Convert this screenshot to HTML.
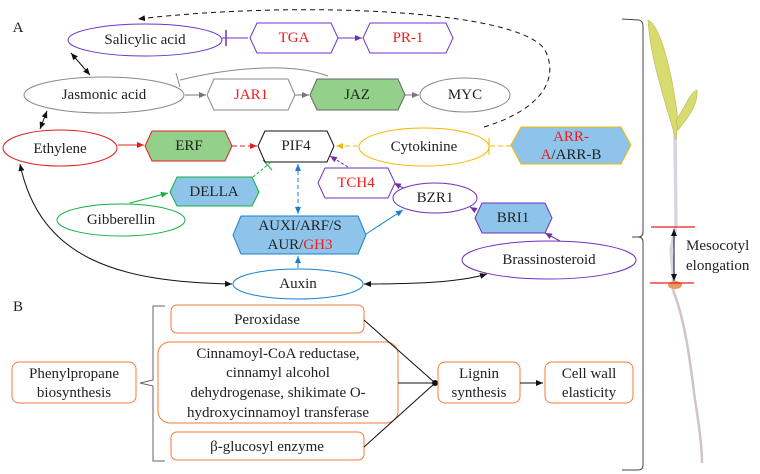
<!DOCTYPE html>
<html><head><meta charset="utf-8"><style>
html,body{margin:0;padding:0;background:#fff}
svg{display:block}
svg text{font-family:"Liberation Serif","Times New Roman",serif;font-size:15px;fill:#222;text-anchor:middle;dominant-baseline:central}
svg text.lf{text-anchor:start}
.r{fill:#f01c1c}
</style></head><body>
<svg width="760" height="474" viewBox="0 0 760 474" font-family="Liberation Serif, serif">
<defs>
<marker id="ak" markerWidth="8" markerHeight="8" refX="7" refY="4" orient="auto-start-reverse"><path d="M0,1 L7,4 L0,7z" fill="#111"/></marker>
<marker id="ag" markerWidth="8" markerHeight="8" refX="7" refY="4" orient="auto"><path d="M0,1 L7,4 L0,7z" fill="#777"/></marker>
<marker id="ar" markerWidth="8" markerHeight="8" refX="7" refY="4" orient="auto"><path d="M0,1 L7,4 L0,7z" fill="#e02020"/></marker>
<marker id="ap" markerWidth="8" markerHeight="8" refX="7" refY="4" orient="auto"><path d="M0,1 L7,4 L0,7z" fill="#7030a0"/></marker>
<marker id="ab" markerWidth="8" markerHeight="8" refX="7" refY="4" orient="auto-start-reverse"><path d="M0,1 L7,4 L0,7z" fill="#1a7fd0"/></marker>
<marker id="agr" markerWidth="8" markerHeight="8" refX="7" refY="4" orient="auto"><path d="M0,1 L7,4 L0,7z" fill="#10b040"/></marker>
<marker id="ay" markerWidth="8" markerHeight="8" refX="7" refY="4" orient="auto"><path d="M0,1 L7,4 L0,7z" fill="#f5b800"/></marker>
</defs>

<text x="18" y="28">A</text>
<text x="18" y="307">B</text>

<path d="M484,127 C540,110 560,80 545,50 C520,10 300,0 138,19" fill="none" stroke="#111" stroke-dasharray="5,4" marker-end="url(#ak)"/>

<path d="M222,38 L248,38" stroke="#7030c0" fill="none"/>
<path d="M226,30 L226,46" stroke="#7030c0" stroke-width="1.5"/>
<path d="M337,38 L362,38" stroke="#7030c0" marker-end="url(#ap)"/>
<path d="M71,53 L90,75" stroke="#111" marker-end="url(#ak)" marker-start="url(#ak)"/>
<path d="M47,111 L40,129" stroke="#111" marker-end="url(#ak)" marker-start="url(#ak)"/>
<path d="M185,95 L206,95" stroke="#777" marker-end="url(#ag)"/>
<path d="M295,95 L309,95" stroke="#777" marker-end="url(#ag)"/>
<path d="M405,95 L419,95" stroke="#777" marker-end="url(#ag)"/>
<path d="M328,76 C290,62 230,68 180,80" stroke="#888" fill="none"/>
<path d="M176,73 L180,87" stroke="#888"/>
<path d="M118,145 L144,145" stroke="#e02020" marker-end="url(#ar)"/>
<path d="M232,146 L257,146" stroke="#e02020" stroke-dasharray="5,3" marker-end="url(#ar)"/>
<path d="M358,146 L336,146" stroke="#f5b800" stroke-dasharray="5,3" marker-end="url(#ay)"/>
<path d="M511,146 L490,146" stroke="#f5b800" stroke-dasharray="5,3"/>
<path d="M489,138 L489,155" stroke="#f5b800"/>
<path d="M348,167 L330,156" stroke="#7030c0" stroke-dasharray="3,2" marker-end="url(#ap)"/>
<path d="M405,189 L394,183" stroke="#7030c0" marker-end="url(#ap)"/>
<path d="M475,210 L470,207" stroke="#7030c0" marker-end="url(#ap)"/>
<path d="M560,241 L545,233" stroke="#7030c0" marker-end="url(#ap)"/>
<path d="M253,177 L270,163" stroke="#10b040" stroke-dasharray="3,2"/>
<path d="M263,160 L272,170" stroke="#10b040"/>
<path d="M130,203 L168,193" stroke="#10b040" marker-end="url(#agr)"/>
<path d="M298,164 L298,214" stroke="#1a7fd0" stroke-dasharray="4,3" marker-end="url(#ab)" marker-start="url(#ab)"/>
<path d="M298,268 L298,256" stroke="#1a7fd0" marker-end="url(#ab)"/>
<path d="M366,234 L403,210" stroke="#1a7fd0" marker-end="url(#ab)"/>
<path d="M20,164 C40,260 120,282 232,284" stroke="#111" fill="none" marker-end="url(#ak)" marker-start="url(#ak)"/>
<path d="M364,284 C420,284 460,282 487,274" stroke="#111" fill="none" marker-end="url(#ak)" marker-start="url(#ak)"/>

<g><ellipse cx="145" cy="40" rx="77" ry="16" fill="#fff" stroke="#6a35d0"/><text x="145" y="40">Salicylic acid</text></g>
<g><polygon points="257,23 331,23 338,38 331,53 257,53 250,38" fill="#fff" stroke="#6a35d0"/><text x="294" y="38" class="r">TGA</text></g>
<g><polygon points="370,23 446,23 453,38 446,53 370,53 363,38" fill="#fff" stroke="#6a35d0"/><text x="408" y="38" class="r">PR-1</text></g>
<g><ellipse cx="104" cy="95" rx="80" ry="18" fill="#fff" stroke="#888"/><text x="104" y="95">Jasmonic acid</text></g>
<g><polygon points="214,79 288,79 295,95 288,110 214,110 207,95" fill="#fff" stroke="#888"/><text x="251" y="95" class="r">JAR1</text></g>
<g><polygon points="317,79 398,79 405,95 398,110 317,110 310,95" fill="#93d08a" stroke="#666"/><text x="357" y="95">JAZ</text></g>
<g><ellipse cx="465" cy="95" rx="45" ry="17" fill="#fff" stroke="#888"/><text x="465" y="95">MYC</text></g>
<g><ellipse cx="60" cy="148" rx="57" ry="18" fill="#fff" stroke="#e02020"/><text x="60" y="149">Ethylene</text></g>
<g><polygon points="152,131 225,131 232,146 225,161 152,161 145,146" fill="#93d08a" stroke="#e02020"/><text x="189" y="146">ERF</text></g>
<g><polygon points="265,131 327,131 334,146 327,162 265,162 258,146" fill="#fff" stroke="#111"/><text x="296" y="146">PIF4</text></g>
<g><ellipse cx="424" cy="147" rx="65" ry="19" fill="#fff" stroke="#f5b800"/><text x="424" y="147">Cytokinine</text></g>
<g><polygon points="521,127 621,127 631,145 621,164 521,164 511,145" fill="#8ec4ea" stroke="#f5b800"/><text x="571" y="137"><tspan class="r">ARR-</tspan></text><text x="571" y="155"><tspan class="r">A</tspan>/ARR-B</text></g>
<g><polygon points="325,168 388,168 395,183 388,198 325,198 318,183" fill="#fff" stroke="#7030c0"/><text x="356" y="183" class="r">TCH4</text></g>
<g><polygon points="177,177 252,177 259,192 252,206 177,206 170,192" fill="#8ec4ea" stroke="#10b040"/><text x="214" y="192">DELLA</text></g>
<g><ellipse cx="121" cy="220" rx="64" ry="16" fill="#fff" stroke="#10b040"/><text x="121" y="220">Gibberellin</text></g>
<g><ellipse cx="435" cy="198" rx="42" ry="15" fill="#fff" stroke="#7030c0"/><text x="435" y="198">BZR1</text></g>
<g><polygon points="482,203 545,203 552,218 545,233 482,233 475,218" fill="#8ec4ea" stroke="#7030c0"/><text x="513" y="218">BRI1</text></g>
<g><polygon points="241,216 358,216 366,235 358,254 241,254 233,235" fill="#8ec4ea" stroke="#1a7fd0"/><text x="300" y="226">AUXI/ARF/S</text><text x="300" y="245">AUR/<tspan class="r">GH3</tspan></text></g>
<g><ellipse cx="549" cy="260" rx="87" ry="19" fill="#fff" stroke="#7030c0"/><text x="549" y="260">Brassinosteroid</text></g>
<g><ellipse cx="298" cy="284" rx="65" ry="15" fill="#fff" stroke="#1a7fd0"/><text x="298" y="284">Auxin</text></g>

<path d="M165,306 L153,306 L153,380 L140,383 L153,386 L153,461 L165,461" fill="none" stroke="#666"/>
<g><rect x="12" y="362" width="124" height="41" rx="7" fill="#fff" stroke="#ef7b3a"/><text x="74" y="374">Phenylpropane</text><text x="74" y="393">biosynthesis</text></g>
<g><rect x="171" y="305" width="193" height="28" rx="6" fill="#fff" stroke="#ef7b3a"/><text x="267" y="320">Peroxidase</text></g>
<g><rect x="158" y="342" width="240" height="81" rx="12" fill="#fff" stroke="#ef7b3a"/><text x="278" y="354">Cinnamoyl-CoA reductase,</text><text x="278" y="373">cinnamyl alcohol</text><text x="278" y="393">dehydrogenase, shikimate O-</text><text x="278" y="413">hydroxycinnamoyl transferase</text></g>
<g><rect x="171" y="432" width="193" height="28" rx="6" fill="#fff" stroke="#ef7b3a"/><text x="267" y="447">β-glucosyl enzyme</text></g>
<path d="M364,320 L434,382 M398,383 L434,383 M364,447 L434,384" stroke="#111" fill="none"/>
<circle cx="435" cy="383" r="3" fill="#111"/>
<g><rect x="438" y="362" width="82" height="41" rx="7" fill="#fff" stroke="#ef7b3a"/><text x="479" y="374">Lignin</text><text x="479" y="393">synthesis</text></g>
<path d="M520,383 L543,383" stroke="#111" marker-end="url(#ak)"/>
<g><rect x="545" y="362" width="88" height="41" rx="7" fill="#fff" stroke="#ef7b3a"/><text x="589" y="374">Cell wall</text><text x="589" y="393">elasticity</text></g>

<path d="M622,19 L639,20 Q643,21 643,26 L643,232 Q643,237 638,237 L632,237 L638,237 Q643,237 643,242 L643,465 Q643,470 638,470 L622,470" fill="none" stroke="#444"/>

<g>
<path d="M675,130 L676,225 L671,250 L674,283 L673,290" stroke="#d4d6e2" stroke-width="3.5" fill="none"/>
<path d="M673,290 C685,320 690,360 695,400 C700,430 702,450 702,463" stroke="#cfc4c8" stroke-width="2.5" fill="none"/>
<path d="M648,20 C660,25 672,70 678,120 L676,140 C668,110 650,60 648,20z" fill="#d8dc70" stroke="#b8b850" stroke-width="0.6"/>
<path d="M676,120 C684,110 690,92 697,90 C698,105 690,115 678,130z" fill="#d8dc70" stroke="#b8b850" stroke-width="0.6"/>
<ellipse cx="675" cy="285" rx="7" ry="4" fill="#e59a60"/>
<path d="M651,227 L695,227 M650,283 L694,283" stroke="#e82020" stroke-width="1.2"/>
<path d="M674,229 L674,281" stroke="#111" marker-end="url(#ak)" marker-start="url(#ak)"/>
</g>
<text x="686" y="246" class="lf">Mesocotyl</text>
<text x="686" y="266" class="lf">elongation</text>
</svg>
</body></html>
